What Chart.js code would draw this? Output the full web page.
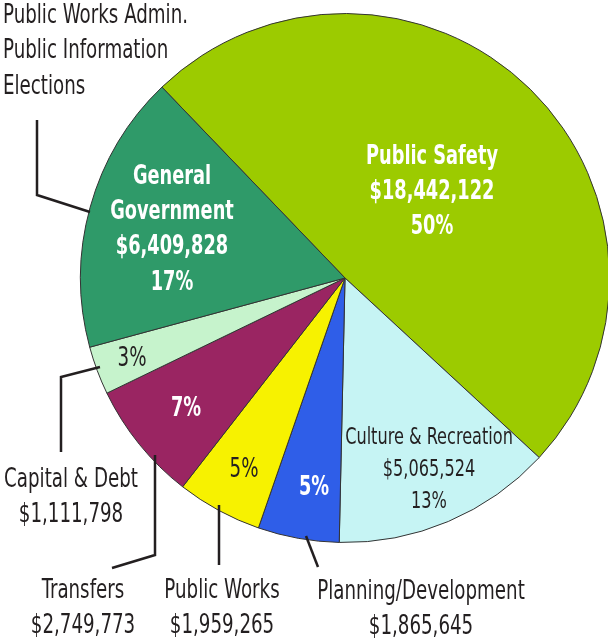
<!DOCTYPE html>
<html>
<head>
<meta charset="utf-8">
<script src="https://cdn.jsdelivr.net/npm/chart.js@4"></script>
<style>
  html, body { margin: 0; padding: 0; background: #fff; overflow: hidden; }
  #wrap { position: absolute; left: 0; top: 0; width: 620px; height: 641px; }
</style>
</head>
<body>
<div id="wrap"><canvas id="chart"></canvas></div>
<script>
// slices, clockwise starting from the Public Safety / General Government edge
const categories = ["Public Safety", "Culture & Recreation", "Planning/Development", "Public Works", "Transfers", "Capital & Debt", "General Government"];
const amounts = [18442122, 5065524, 1865645, 1959265, 2749773, 1111798, 6409828];
const amountLabels = ["$18,442,122", "$5,065,524", "$1,865,645", "$1,959,265", "$2,749,773", "$1,111,798", "$6,409,828"];
const percentLabels = ["50%", "13%", "5%", "5%", "7%", "3%", "17%"];
const adminNote = ["Public Works Admin.", "Public Information", "Elections"];

const colors = ["#9ccb00", "#c6f4f4", "#2f5ee8", "#f7f200", "#9a2562", "#c6f3cc", "#2f9a69"];
const DARK = "#231f20";

function txt(ctx, s, x, y, opt) {
  ctx.save();
  ctx.font = (opt.bold ? "bold " : "") + (opt.size || 26) + "px 'DejaVu Sans Condensed', sans-serif";
  ctx.fillStyle = opt.color || DARK;
  ctx.textBaseline = "middle";
  ctx.textAlign = opt.align || "center";
  ctx.translate(x, y);
  ctx.scale(opt.bold ? 0.76 : 0.78, 1); // squeeze to a condensed look
  ctx.fillText(s, 0, 0);
  ctx.restore();
}

function leader(ctx, pts) {
  ctx.save();
  ctx.strokeStyle = DARK;
  ctx.lineWidth = 2.5;
  ctx.beginPath();
  ctx.moveTo(pts[0][0], pts[0][1]);
  for (let i = 1; i < pts.length; i++) ctx.lineTo(pts[i][0], pts[i][1]);
  ctx.stroke();
  ctx.restore();
}

const labelPlugin = {
  id: "labels",
  afterDatasetsDraw(chart) {
    const ctx = chart.ctx;
    const W = { bold: true, color: "#fff" };
    const D = { bold: false, color: DARK };
    const S = { bold: false, color: DARK, size: 23 };

    // Public Safety
    [categories[0], amountLabels[0], percentLabels[0]].forEach((s, i) => txt(ctx, s, 432, 157 + i * 35, W));
    // General Government
    ["General", "Government", amountLabels[6], percentLabels[6]].forEach((s, i) => txt(ctx, s, 172, 177 + i * 35.3, W));
    // Culture & Recreation
    [categories[1], amountLabels[1], percentLabels[1]].forEach((s, i) => txt(ctx, s, 429, 438 + i * 32, S));

    // in-slice percents
    txt(ctx, percentLabels[2], 314, 488, W);
    txt(ctx, percentLabels[3], 244, 470, D);
    txt(ctx, percentLabels[4], 186, 409, W);
    txt(ctx, percentLabels[5], 132, 359, D);

    // outside labels
    [categories[2], amountLabels[2]].forEach((s, i) => txt(ctx, s, 421, 592 + i * 35, D));
    [categories[3], amountLabels[3]].forEach((s, i) => txt(ctx, s, 222, 591 + i * 35, D));
    [categories[4], amountLabels[4]].forEach((s, i) => txt(ctx, s, 83, 591 + i * 35, D));
    [categories[5], amountLabels[5]].forEach((s, i) => txt(ctx, s, 71, 480 + i * 35, D));
    adminNote.forEach((s, i) => txt(ctx, s, 3, 16 + i * 35.5, { bold: false, color: DARK, align: "left" }));

    // leader lines
    leader(ctx, [[37, 120], [37, 195], [90, 212]]);
    leader(ctx, [[100, 367], [61, 377], [61, 452]]);
    leader(ctx, [[155, 455], [155, 555], [112, 568]]);
    leader(ctx, [[219, 505], [219, 565]]);
    leader(ctx, [[306, 536], [318, 567]]);
  }
};

new Chart(document.getElementById("chart"), {
  type: "pie",
  data: {
    labels: categories,
    datasets: [{
      data: amounts,
      backgroundColor: colors,
      borderColor: "#333",
      borderWidth: 1
    }]
  },
  options: {
    responsive: true,
    maintainAspectRatio: false,
    animation: false,
    rotation: -43.8,
    layout: { padding: { left: 80, top: 13, right: 10, bottom: 98 } },
    plugins: { legend: { display: false }, tooltip: { enabled: false } }
  },
  plugins: [labelPlugin]
});
</script>
</body>
</html>
